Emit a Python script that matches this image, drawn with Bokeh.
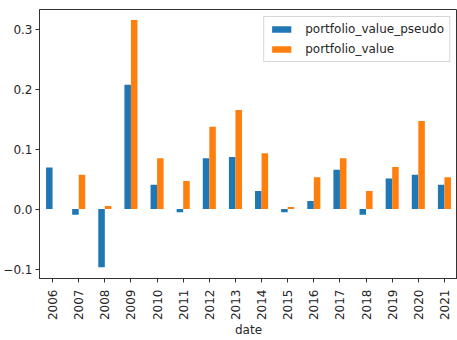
import math
from bokeh.plotting import figure
from bokeh.models import FactorRange, Range1d, FixedTicker, ColumnDataSource, Legend, LegendItem
from bokeh.transform import dodge
from bokeh.embed import file_html
from bokeh.resources import INLINE

years = ["2006", "2007", "2008", "2009", "2010", "2011", "2012", "2013",
         "2014", "2015", "2016", "2017", "2018", "2019", "2020", "2021"]
pseudo = [0.069, -0.0095, -0.097, 0.207, 0.0405, -0.0055, 0.0845, 0.0867,
          0.030, -0.0055, 0.0133, 0.0655, -0.0095, 0.051, 0.057, 0.0405]
actual = [0.0, 0.057, 0.005, 0.315, 0.0845, 0.0467, 0.137, 0.165,
          0.0928, 0.0033, 0.0528, 0.0845, 0.030, 0.070, 0.1467, 0.0528]
series_names = ["portfolio_value_pseudo", "portfolio_value"]
x_title = "date"
y_ticks = [-0.1, 0.0, 0.1, 0.2, 0.3]
y_tick_labels = ["\u22120.1", "0.0", "0.1", "0.2", "0.3"]

src = ColumnDataSource(dict(year=years, pseudo=pseudo, actual=actual))

FONT = "DejaVu Sans"
TXT = "#262626"

p = figure(width=457, height=340, output_backend="svg", toolbar_location=None,
           x_range=FactorRange(factors=years, range_padding=0),
           y_range=Range1d(-0.1158, 0.3325),
           min_border_left=37, min_border_right=0, min_border_top=9, min_border_bottom=61)

r1 = p.vbar(x=dodge("year", -0.125, range=p.x_range), top="pseudo", width=0.25,
            source=src, fill_color="#1f77b4", line_color=None)
r2 = p.vbar(x=dodge("year", 0.125, range=p.x_range), top="actual", width=0.25,
            source=src, fill_color="#ff7f0e", line_color=None)

p.xgrid.visible = False
p.ygrid.visible = False
p.outline_line_color = "#333333"
p.outline_line_width = 1
p.background_fill_color = "white"
p.border_fill_color = "white"

for ax in (p.xaxis[0], p.yaxis[0]):
    ax.axis_line_color = "#333333"
    ax.major_tick_line_color = "#333333"
    ax.major_tick_out = 4
    ax.major_tick_in = 0
    ax.minor_tick_line_color = None
    ax.major_label_text_font = FONT
    ax.major_label_text_font_size = "12px"
    ax.major_label_text_color = TXT

p.yaxis[0].major_label_standoff = 3
p.xaxis[0].major_label_standoff = 7

p.yaxis[0].ticker = FixedTicker(ticks=y_ticks)
p.yaxis[0].major_label_overrides = {t: l for t, l in zip(y_ticks, y_tick_labels)}

p.xaxis[0].major_label_orientation = math.pi / 2
p.xaxis[0].axis_label = x_title
p.xaxis[0].axis_label_text_font = FONT
p.xaxis[0].axis_label_text_font_size = "12px"
p.xaxis[0].axis_label_text_font_style = "normal"
p.xaxis[0].axis_label_text_color = TXT
p.xaxis[0].axis_label_standoff = 0

legend = Legend(items=[LegendItem(label=series_names[0], renderers=[r1]),
                       LegendItem(label=series_names[1], renderers=[r2])],
                location="top_right")
legend.margin = 7
legend.padding = 5
legend.spacing = 6
legend.glyph_width = 24
legend.glyph_height = 8
legend.label_height = 14
legend.label_standoff = 12
legend.label_text_font = FONT
legend.label_text_font_size = "12px"
legend.label_text_color = TXT
legend.border_line_color = "#cccccc"
legend.border_line_alpha = 0.8
legend.background_fill_alpha = 0.8
p.add_layout(legend, "center")

open("out.html", "w").write(file_html(p, INLINE))
